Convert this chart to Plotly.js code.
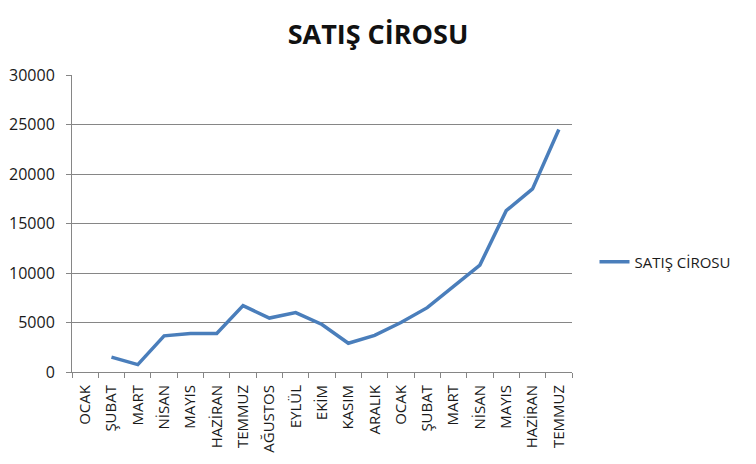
<!DOCTYPE html>
<html>
<head>
<meta charset="utf-8">
<script src="https://cdn.plot.ly/plotly-3.0.1.min.js"></script>
<style>html,body{margin:0;padding:0;background:#fff;}#chart{width:756px;height:464px;}</style>
</head>
<body>
<div id="chart"></div>
<script>
const months = ["OCAK","ŞUBAT","MART","NİSAN","MAYIS","HAZİRAN","TEMMUZ","AĞUSTOS","EYLÜL","EKİM","KASIM","ARALIK","OCAK","ŞUBAT","MART","NİSAN","MAYIS","HAZİRAN","TEMMUZ"];
const sales = [null,1500,750,3650,3900,3900,6700,5450,6000,4800,2900,3700,5000,6500,8600,10800,16300,18500,24500];
const seriesName = "SATIŞ CİROSU";
const yTicks = [0,5000,10000,15000,20000,25000,30000];

const idx = months.map((m,i)=>i);
const font = "Open Sans, Liberation Sans, sans-serif";

Plotly.newPlot("chart", [{
  x: idx, y: sales, type: "scatter", mode: "lines", name: seriesName,
  line: {color: "#4A7EBB", width: 3.5}, connectgaps: false
}], {
  width: 756, height: 464,
  margin: {l: 72, r: 184, t: 75, b: 92},
  paper_bgcolor: "#fff", plot_bgcolor: "#fff",
  font: {family: font, color: "#1a1a1a"},
  title: {text: "<b>SATIŞ CİROSU</b>", font: {size: 27, color: "#111", family: font}, x: 0.5, xref: "container", y: 0.925, yref: "container", yanchor: "middle"},
  showlegend: true,
  legend: {x: 1.045, xanchor: "left", y: 0.37, yanchor: "middle", font: {size: 15, color: "#1a1a1a"}, bgcolor: "rgba(0,0,0,0)"},
  xaxis: {
    range: [-0.5, 18.5], tickmode: "array", tickvals: idx, ticktext: months,
    tickangle: -90, ticks: "", showgrid: false, zeroline: false,
    showline: true, linecolor: "#868686", linewidth: 1,
    ticklabelstandoff: 6,
    tickfont: {size: 15, color: "#1a1a1a"},
    minor: {tick0: -0.5, dtick: 1, ticks: "outside", ticklen: 5, tickcolor: "#868686", showgrid: false}
  },
  yaxis: {
    range: [0, 30000], tickmode: "array", tickvals: yTicks, ticktext: yTicks.map(String),
    showgrid: true, gridcolor: "#868686", gridwidth: 1, zeroline: false,
    showline: true, linecolor: "#868686", linewidth: 1,
    ticks: "outside", ticklen: 5, tickcolor: "#868686",
    ticklabelstandoff: 8,
    tickfont: {size: 16, color: "#1a1a1a"}
  }
}, {displayModeBar: false, staticPlot: true});
</script>
</body>
</html>
